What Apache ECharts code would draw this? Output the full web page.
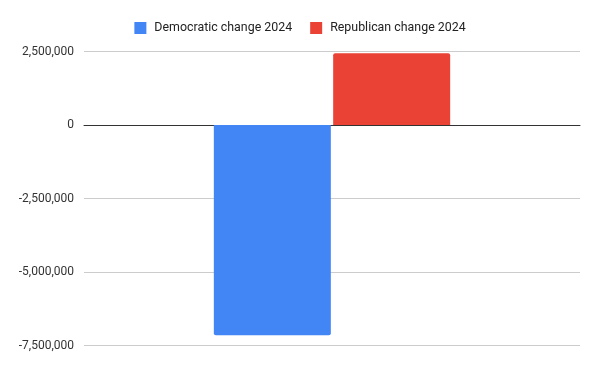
<!DOCTYPE html>
<html>
<head>
<meta charset="utf-8">
<script src="https://cdn.jsdelivr.net/npm/echarts@6/dist/echarts.min.js"></script>
<style>html,body{margin:0;padding:0;background:#fff}#c{width:600px;height:371px}</style>
</head>
<body>
<div id="c"></div>
<script>
const categories = [''];
const democraticChange = [-7150000];
const republicanChange = [2440000];
const yTicks = { min: -7500000, max: 2500000, interval: 2500000 };

const chart = echarts.init(document.getElementById('c'), null, { renderer: 'canvas' });
const fmt = v => (v < 0 ? '-' : '') + Math.abs(v).toString().replace(/\B(?=(\d{3})+(?!\d))/g, ',');
chart.setOption({
  animation: false,
  backgroundColor: '#fff',
  textStyle: { fontFamily: 'Roboto, Arial, sans-serif' },
  legend: {
    top: 17,
    left: 'center',
    itemWidth: 12,
    itemHeight: 12,
    itemGap: 18,
    icon: 'rect',
    textStyle: { fontSize: 12.4, color: '#222', fontFamily: 'Roboto, Arial, sans-serif', padding: [0, 0, 0, 3] },
    data: ['Democratic change 2024', 'Republican change 2024']
  },
  grid: { left: 84, right: 20, top: 51.5, bottom: 25.5, containLabel: false },
  xAxis: {
    type: 'category',
    data: categories,
    axisLine: { show: true, onZero: true, lineStyle: { color: '#333', width: 1 } },
    axisTick: { show: false },
    axisLabel: { show: false },
    splitLine: { show: false }
  },
  yAxis: {
    type: 'value',
    min: yTicks.min,
    max: yTicks.max,
    interval: yTicks.interval,
    axisLine: { show: false },
    axisTick: { show: false },
    axisLabel: { color: '#333', fontSize: 12, margin: 10, formatter: fmt, fontFamily: 'Roboto, Arial, sans-serif' },
    splitLine: { lineStyle: { color: '#ccc', width: 1 } }
  },
  series: [
    {
      name: 'Democratic change 2024',
      type: 'bar',
      data: democraticChange,
      barWidth: 117,
      barGap: '2%',
      itemStyle: { color: '#4285F4', borderRadius: [0, 0, 2, 2] }
    },
    {
      name: 'Republican change 2024',
      type: 'bar',
      data: republicanChange,
      barWidth: 117,
      barGap: '2%',
      itemStyle: { color: '#EA4335', borderRadius: [2, 2, 0, 0] }
    }
  ]
});
</script>
</body>
</html>
